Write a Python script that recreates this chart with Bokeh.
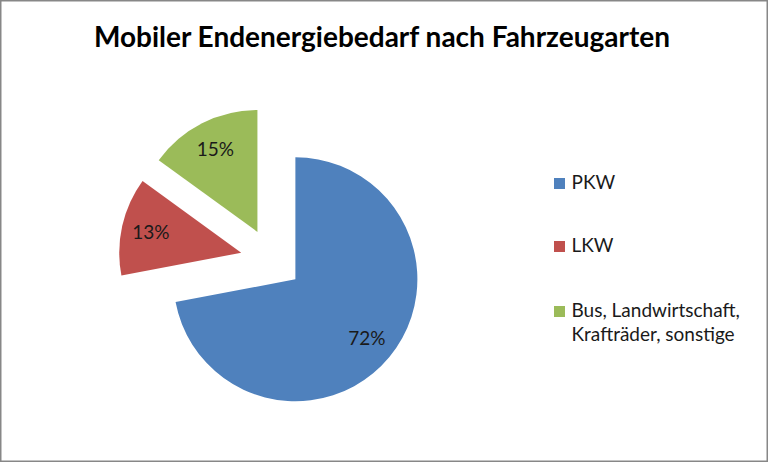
import math
from bokeh.plotting import figure
from bokeh.models import Range1d, ColumnDataSource
from bokeh.core.properties import value
from bokeh.embed import file_html
from bokeh.resources import INLINE

# ---- data ----
title_text = "Mobiler Endenergiebedarf nach Fahrzeugarten"
categories = ["PKW", "LKW", "Bus, Landwirtschaft,\nKrafträder, sonstige"]
shares = [72, 13, 15]
colors = ["#4F81BD", "#C0504D", "#9BBB59"]

# ---- layout (pixel-like data space, y up) ----
W, H = 768, 462
CX, CY = 271, H - 259   # pie centre
R = 122                 # radius
EXPLODE = 31            # explosion distance
LABEL_F = 0.76          # label distance as fraction of radius
FONT = "Lato"

p = figure(width=W, height=H, x_range=Range1d(0, W), y_range=Range1d(0, H),
           min_border=0, toolbar_location=None, output_backend="svg",
           x_axis_type=None, y_axis_type=None)
p.outline_line_color = "#878787"
p.outline_line_width = 2
p.background_fill_color = "white"
p.border_fill_color = "white"

total = float(sum(shares))
cum = 0.0
xs, ys, a0s, a1s, lx, ly, ltxt = [], [], [], [], [], [], []
for v in shares:
    f0 = cum / total
    cum += v
    f1 = cum / total
    a0 = math.radians(90 - 360 * f0)
    a1 = math.radians(90 - 360 * f1)
    mid = (a0 + a1) / 2
    x = CX + EXPLODE * math.cos(mid)
    y = CY + EXPLODE * math.sin(mid)
    xs.append(x); ys.append(y); a0s.append(a0); a1s.append(a1)
    lx.append(x + LABEL_F * R * math.cos(mid))
    ly.append(y + LABEL_F * R * math.sin(mid) + 1)
    ltxt.append(f"{v}%")

src = ColumnDataSource(dict(x=xs, y=ys, a0=a0s, a1=a1s, color=colors,
                            lx=lx, ly=ly, txt=ltxt))
p.wedge(x="x", y="y", radius=R, start_angle="a0", end_angle="a1",
        direction="clock", fill_color="color", line_color=None, source=src)
p.text(x="lx", y="ly", text="txt", source=src, text_align="center",
       text_baseline="middle", text_font=value(FONT), text_font_size="19px",
       text_color="#1a1a1a")

# title
p.text(x=[382], y=[H - 35], text=[title_text], text_align="center",
       text_baseline="middle", text_font=value(FONT),
       text_font_style="bold", text_font_size="28px", text_color="#000000")

# legend
leg_y = [H - 181, H - 244, H - 309]
LINE_STEP = 24
p.scatter(x=[559] * 3, y=[H - 183, H - 246, H - 311], marker="square", size=11,
          fill_color=colors, line_color=None)
tx, ty, tt = [], [], []
for yy, lab in zip(leg_y, categories):
    for k, line in enumerate(lab.split("\n")):
        tx.append(571); ty.append(yy - k * LINE_STEP); tt.append(line)
p.text(x=tx, y=ty, text=tt, text_align="left",
       text_baseline="middle", text_font=value(FONT), text_font_size="19px",
       text_color="#1a1a1a")

open("out.html", "w").write(file_html(p, INLINE))
